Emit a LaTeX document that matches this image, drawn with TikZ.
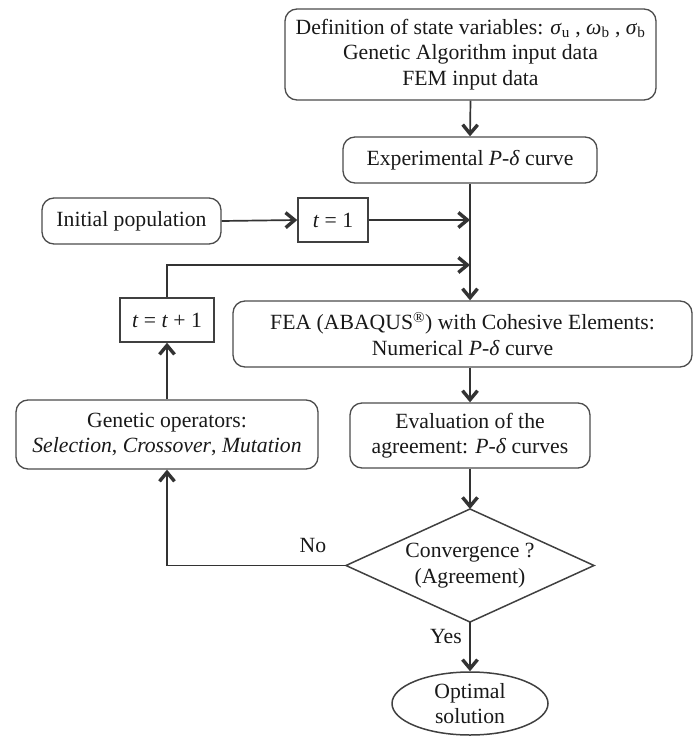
\documentclass[tikz,border=0pt]{standalone}
\usepackage{fontspec}
\setmainfont{Liberation Serif}
\usetikzlibrary{arrows.meta,shapes.geometric}
\begin{document}
\begin{tikzpicture}[x=1pt,y=-1pt,
  every node/.style={font=\fontsize{21.7}{25.5}\selectfont, text=black!90, inner sep=0pt, align=center},
  rbox/.style={draw=black!70, line width=1.3pt, rounded corners=12pt},
  sbox/.style={draw=black!75, line width=1.5pt},
  arr/.style={draw=black!80, line width=1.7pt, -{Straight Barb[length=9pt,width=15pt,line width=3.4pt]}},
  ln/.style={draw=black!80, line width=1.7pt}]
\useasboundingbox (0,0) rectangle (694,738);
\node[rbox, minimum width=371pt, minimum height=91pt] (top) at (470.5,54.5)
  {Definition of state variables: \textit{σ}\textsubscript{u} , \textit{ω}\textsubscript{b} , \textit{σ}\textsubscript{b}\\Genetic Algorithm input data\\FEM input data};
\node[rbox, minimum width=254pt, minimum height=46pt] (exp) at (470,160) {Experimental \textit{P}-\textit{δ} curve};
\node[rbox, minimum width=179pt, minimum height=46pt] (init) at (131.5,221) {Initial population};
\node[sbox, minimum width=70pt, minimum height=44pt] (t1) at (333,220) {\textit{t} = 1};
\node[sbox, minimum width=94pt, minimum height=44pt] (tt1) at (167,320) {\textit{t} = \textit{t} + 1};
\node[rbox, minimum width=459pt, minimum height=66pt] (fea) at (462.5,334)
  {FEA (ABAQUS\textsuperscript{®}) with Cohesive Elements:\\Numerical \textit{P}-\textit{δ} curve};
\node[rbox, minimum width=302pt, minimum height=69pt] (gen) at (167,434.5)
  {Genetic operators:\\\textit{Selection}, \textit{Crossover}, \textit{Mutation}};
\node[rbox, minimum width=240pt, minimum height=65pt] (eval) at (470,435.5)
  {Evaluation of the\\agreement: \textit{P}-\textit{δ} curves};
\node[minimum width=248pt, minimum height=113pt, outer sep=0pt] (dia) at (470,565.5)
  {Convergence ?\\(Agreement)};
\draw[draw=black!75, line width=1.5pt, line join=miter] (dia.west) -- (dia.north) -- (dia.east) -- (dia.south) -- cycle;
\node[ellipse, draw=black!75, line width=1.5pt, minimum width=156pt, minimum height=63pt] (ell) at (470,703.5)
  {Optimal\\solution};
\coordinate (j1) at (470,220);
\coordinate (j2) at (470,265);
\draw[arr] (top.south) -- (exp.north);
\draw[arr] (exp.south) -- (exp.south |- fea.north);
\draw[arr] (init.east) -- (t1.west);
\draw[arr] (t1.east) -- (j1);
\draw[arr] (tt1.north) |- (j2);
\draw[arr] (fea.south -| eval.north) -- (eval.north);
\draw[arr] (gen.north) -- (tt1.south);
\draw[arr] (eval.south) -- (dia.north);
\draw[arr] (dia.west) -| (gen.south);
\draw[arr] (dia.south) -- (ell.north);
\node (no) at (313,545) {No};
\node (yes) at (446,636) {Yes};
\end{tikzpicture}
\end{document}
